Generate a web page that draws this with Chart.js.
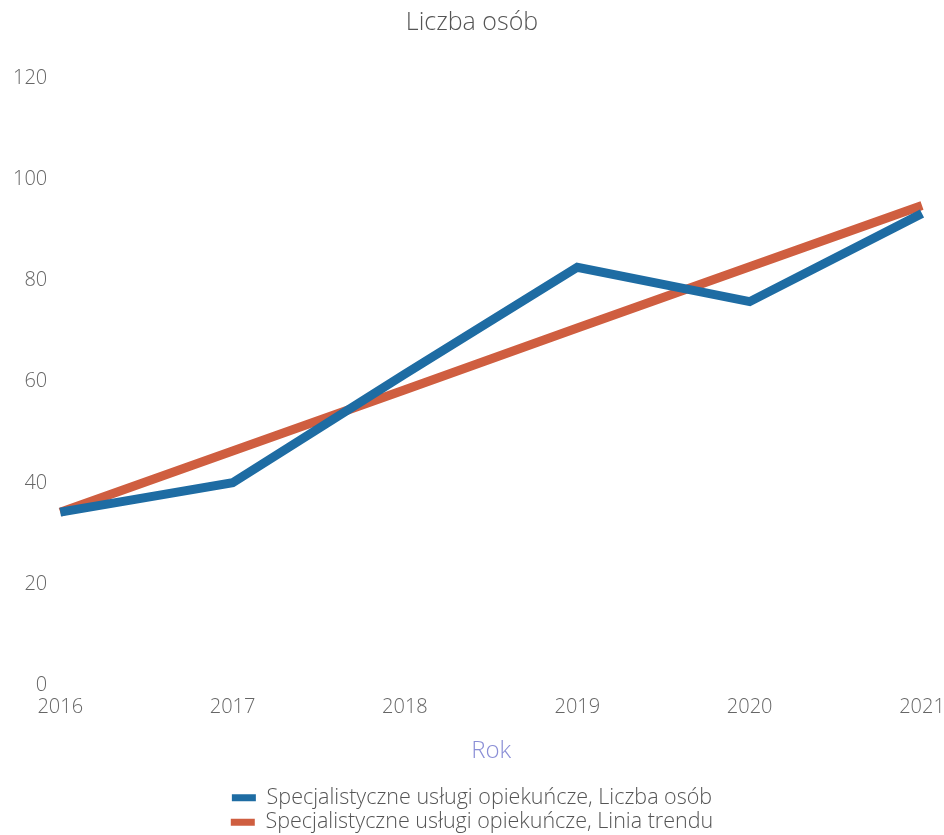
<!doctype html>
<html lang="pl">
<head>
    <meta charset="utf-8">
    <title>Liczba osób</title>
    <script src="https://cdn.jsdelivr.net/npm/chart.js"></script>
    <style>
      html, body { margin: 0; padding: 0; background: #fff; overflow: hidden; height: 835px; }
      #wrap { width: 944px; height: 843px; }
    </style>
</head>
<body>
    <div id="wrap"><canvas id="myChart"></canvas></div>
    <script type="text/javascript">
      const years = ['2016', '2017', '2018', '2019', '2020', '2021'];
      const liczbaOsob = [34.2, 40, 61.5, 82.6, 75.8, 93.2];
      const liniaTrendu = [34.2, 46.3, 58.4, 70.6, 82.7, 94.8];
      const yTicks = [0, 20, 40, 60, 80, 100, 120];

      const FONT = "'Open Sans', sans-serif";

      const data = {
        labels: years,
        datasets: [{
          label: 'Specjalistyczne usługi opiekuńcze, Liczba osób',
          data: liczbaOsob,
          borderColor: 'rgb(30, 108, 163)',
          backgroundColor: 'rgb(30, 108, 163)',
          borderWidth: 9,
          pointRadius: 0,
          tension: 0
        }, {
          label: 'Specjalistyczne usługi opiekuńcze, Linia trendu',
          data: liniaTrendu,
          borderColor: 'rgb(207, 94, 64)',
          backgroundColor: 'rgb(207, 94, 64)',
          borderWidth: 9,
          pointRadius: 0,
          tension: 0
        }]
      };

      const config = {
        type: 'line',
        data: data,
        options: {
          responsive: true,
          maintainAspectRatio: false,
          animation: false,
          layout: { padding: { left: 0, right: 0, top: 0, bottom: 0 } },
          plugins: {
            title: {
              display: true,
              text: 'Liczba osób',
              color: '#555',
              font: { family: FONT, size: 25, weight: 300 },
              padding: { top: 8, bottom: 40 }
            },
            legend: {
              position: 'bottom',
              labels: {
                color: '#555',
                font: { family: FONT, size: 21.5, weight: 300 },
                boxWidth: 24,
                boxHeight: 7,
                padding: 3,
                generateLabels: function(chart) {
                  // keep the legend swatch flat, no thick outline
                  const items = Chart.defaults.plugins.legend.labels.generateLabels(chart);
                  items.forEach(it => { it.lineWidth = 0; });
                  return items;
                }
              }
            },
            tooltip: { enabled: false }
          },
          scales: {
            x: {
              offset: false,
              grid: { display: false, drawTicks: false },
              border: { display: false },
              ticks: {
                color: '#666',
                font: { family: FONT, size: 20, weight: 300 },
                padding: 10,
                maxRotation: 0
              },
              afterFit: function(scale) {
                scale.paddingRight = 22;
              },
              title: {
                display: true,
                text: 'Rok',
                color: '#8a8ed6',
                font: { family: FONT, size: 24, weight: 300 },
                padding: { top: 8, bottom: 18 }
              }
            },
            y: {
              min: 0,
              max: 120,
              afterBuildTicks: function(axis) {
                axis.ticks = yTicks.map(v => ({ value: v }));
              },
              grid: { display: false, drawTicks: false },
              border: { display: false },
              ticks: {
                color: '#666',
                font: { family: FONT, size: 20, weight: 300 },
                padding: 13
              }
            }
          }
        }
      };

      const myChart = new Chart(document.getElementById('myChart'), config);
    </script>
</body>
</html>
